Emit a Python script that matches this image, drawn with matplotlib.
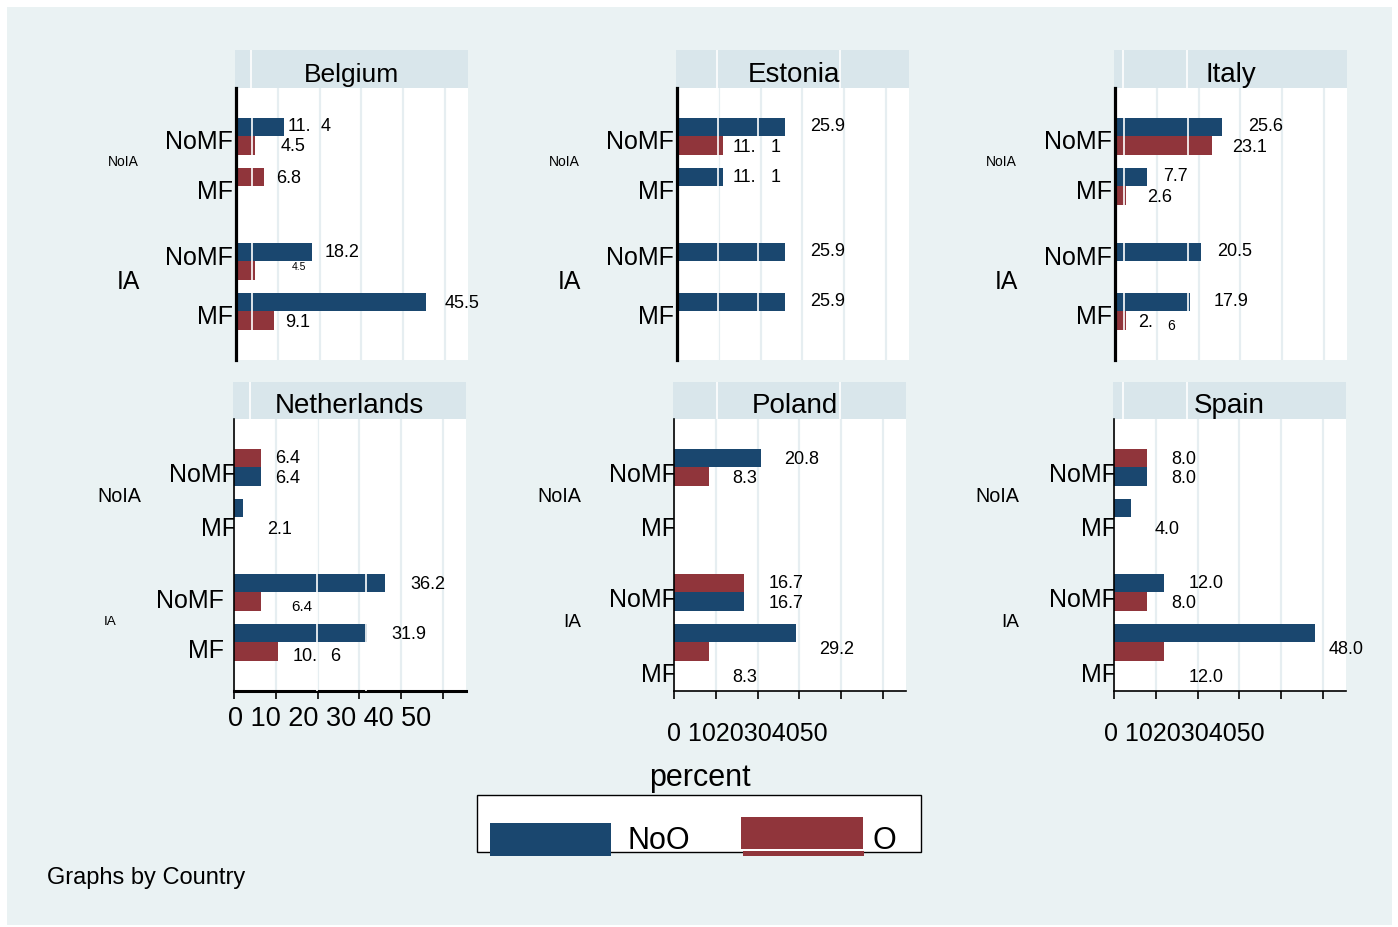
import numpy as np
import matplotlib
matplotlib.use("Agg")
import matplotlib.pyplot as plt
import matplotlib.transforms as mtransforms
from matplotlib import font_manager
from matplotlib.patches import Rectangle

W, H, DPI = 1398, 927, 100

# ---------------------------------------------------------------- data
countries = ["Belgium", "Estonia", "Italy", "Netherlands", "Poland", "Spain"]
series_names = ["NoO", "O"]
mf_labels = ["NoMF", "MF", "NoMF", "MF"]
ia_labels = ["NoIA", "IA"]
tick_values = [0, 10, 20, 30, 40, 50]
tick_labels = ["0", "10", "20", "30", "40", "50"]
nan = np.nan

# percent; rows: NoIA/NoMF, NoIA/MF, IA/NoMF, IA/MF
belgium_noo = [11.4, nan, 18.2, 45.5]
belgium_o = [4.5, 6.8, 4.5, 9.1]
estonia_noo = [25.9, 11.1, 25.9, 25.9]
estonia_o = [11.1, nan, nan, nan]
italy_noo = [25.6, 7.7, 20.5, 17.9]
italy_o = [23.1, 2.6, nan, 2.6]
netherlands_noo = [6.4, 2.1, 36.2, 31.9]
netherlands_o = [6.4, nan, 6.4, 10.6]
poland_noo = [20.8, nan, 16.7, 29.2]
poland_o = [8.3, nan, 16.7, 8.3]
spain_noo = [8.0, 4.0, 12.0, 48.0]
spain_o = [8.0, nan, 8.0, 12.0]

values = {
    "Belgium": (belgium_noo, belgium_o),
    "Estonia": (estonia_noo, estonia_o),
    "Italy": (italy_noo, italy_o),
    "Netherlands": (netherlands_noo, netherlands_o),
    "Poland": (poland_noo, poland_o),
    "Spain": (spain_noo, spain_o),
}

# ---------------------------------------------------------------- style
available = {f.name for f in font_manager.fontManager.ttflist}
SANS = "Liberation Sans" if "Liberation Sans" in available else "DejaVu Sans"
NARROW = "Liberation Sans Narrow" if "Liberation Sans Narrow" in available else SANS
plt.rcParams["font.family"] = [SANS, "DejaVu Sans"]

BG = "#eaf2f3"
STRIP = "#d9e6eb"
GRID = "#e6eef1"
BLUE = "#1a476f"
RED = "#90353b"

STYLES = {
    "n": dict(family=[SANS], size=13),
    "c": dict(family=[NARROW], size=13),
    "s": dict(family=[SANS], size=7.5),
    "cs": dict(family=[NARROW], size=11),
    "ct": dict(family=[NARROW], size=10),
}
TICK_SIZE = 18

XMAX = 55.5
PANEL_W = 232
CAT_POS = [0.0, 1.0, 2.5, 3.5]
Y_LIM = (4.475, -0.965)
BAR_H = 0.37

panel_left = {"Belgium": 236, "Estonia": 677, "Italy": 1115,
              "Netherlands": 234, "Poland": 674, "Spain": 1114}
row_of = {"Belgium": 0, "Estonia": 0, "Italy": 0,
          "Netherlands": 1, "Poland": 1, "Spain": 1}
# strip top, plot top, plot bottom (pixels from top)
row_box = {0: (50, 88, 360), 1: (382, 419, 691)}

# categories where the O bar sits in the upper slot
o_on_top = {"Belgium": {1}, "Estonia": set(), "Italy": set(),
            "Netherlands": {0}, "Poland": {2}, "Spain": {0}}

# value labels: (series, category) -> (dx px, dy px down, style[, split gap, tail style, tail dy])
label_layout = {
    "Belgium": {(0, 0): (4, -2, "n", 9), (1, 0): (26, -1, "n"), (1, 1): (12, 0, "n"),
                (0, 2): (13, -1, "n"), (1, 2): (37, -4, "s"), (0, 3): (18, 0, "n"),
                (1, 3): (11, 0, "n")},
    "Estonia": {(0, 0): (25, -2, "c"), (1, 0): (9, 0, "n", 15), (0, 1): (9, -1, "n", 15),
                (0, 2): (25, -2, "c"), (0, 3): (25, -2, "c")},
    "Italy": {(0, 0): (26, -2, "n"), (1, 0): (21, 0, "n"), (0, 1): (16, -2, "n"),
              (1, 1): (21, 0, "n"), (0, 2): (16, -2, "n"), (0, 3): (24, -2, "n"),
              (1, 3): (12, 0, "n", 15, "ct", -2)},
    "Netherlands": {(1, 0): (14, -1, "n"), (0, 0): (14, 0, "n"), (0, 1): (24, 20, "n"),
                    (0, 2): (25, 0, "n"), (1, 2): (30, 4, "cs"), (0, 3): (24, 0, "n"),
                    (1, 3): (14, 3, "n", 13)},
    "Poland": {(0, 0): (23, 0, "n"), (1, 0): (24, 0, "n"), (1, 2): (25, -1, "n"),
               (0, 2): (25, 0, "n"), (0, 3): (23, 15, "n"), (1, 3): (24, 24, "n")},
    "Spain": {(1, 0): (24, 0, "n"), (0, 0): (24, 0, "n"), (0, 1): (24, 20, "n"),
              (0, 2): (24, -1, "n"), (1, 2): (24, 0, "n"), (0, 3): (14, 15, "n"),
              (1, 3): (24, 24, "n")},
}

# category tick labels: per-label dx (right edge vs axis) and dy
tick_layout = {
    "Belgium": ([-3] * 4, [4, 4, -5, 4]),
    "Estonia": ([-3] * 4, [4, 4, -5, 4]),
    "Italy": ([-3] * 4, [4, 4, -5, 4]),
    "Netherlands": ([3, 3, -10, -10], [6, 10, 7, 7]),
    "Poland": ([3] * 4, [6, 10, 6, 31]),
    "Spain": ([3] * 4, [6, 10, 6, 31]),
}
# group labels: (centre dx, dy, size) for NoIA and IA
group_layout = {
    "Belgium": [(-113, 0, 10), (-108, -6.5, 17.8)],
    "Estonia": [(-113, 0, 10), (-108, -6.5, 17.8)],
    "Italy": [(-114, 0, 10), (-109, -6.5, 17.8)],
    "Netherlands": [(-115, 3, 14.2), (-124, 3, 9.7)],
    "Poland": [(-115, 3, 14.2), (-102, 3, 13.7)],
    "Spain": [(-117, 3, 14.2), (-104, 3, 13.7)],
}
# white rules in the strip and over the bars (data units)
strip_rules = {"Belgium": [3.8], "Estonia": [9.8, 39.0], "Italy": [2.2, 17.5],
               "Netherlands": [4.1], "Poland": [10.5, 39.7], "Spain": [2.4, 17.7]}
bar_rules = {"Belgium": [3.8], "Estonia": [9.8, 19.4], "Italy": [2.2, 17.5],
             "Netherlands": [19.8, 31.5], "Poland": [], "Spain": []}
# x tick label strings: (joiner, dx, dy below axis, size)
xtick_layout = {"Netherlands": (" ", -6, 25, 19.5),
                "Poland": ("", -7, 41, 18), "Spain": ("", -10, 41, 18)}
title_dx = {"Belgium": 0, "Estonia": 1, "Italy": 0,
            "Netherlands": 0, "Poland": 5, "Spain": 0}
title_size = {"Belgium": 19}


def cap(size):
    return 0.716 * size * DPI / 72


def px_rect(l, t, r, b):
    return [l / W, 1 - b / H, (r - l) / W, (b - t) / H]


fig = plt.figure(figsize=(W / DPI, H / DPI), dpi=DPI, facecolor="white")
fig.add_artist(Rectangle((7 / W, 2 / H), 1385 / W, 918 / H,
                         transform=fig.transFigure, facecolor=BG,
                         edgecolor="none", zorder=-3))

for country in countries:
    row = row_of[country]
    s_top, p_top, p_bot = row_box[row]
    left = panel_left[country]
    right = left + PANEL_W

    # strip with country name
    axs = fig.add_axes(px_rect(left - 1, s_top, right, p_top))
    axs.set_facecolor(STRIP)
    axs.set_xlim(0, XMAX)
    axs.set_ylim(0, 1)
    axs.set_xticks([])
    axs.set_yticks([])
    for sp in axs.spines.values():
        sp.set_visible(False)
    for xr in strip_rules[country]:
        axs.axvline(xr, color="white", lw=1.2)
    axs.annotate(country, xy=(0.5, 0), xycoords="axes fraction",
                 xytext=(title_dx[country], 6), textcoords="offset pixels",
                 ha="center", va="baseline",
                 fontsize=title_size.get(country, 20))

    # plot region
    ax = fig.add_axes(px_rect(left, p_top, right, p_bot))
    ax.set_facecolor("white")
    ax.set_xlim(0, XMAX)
    ax.set_ylim(*Y_LIM)
    ax.set_xticks(tick_values)
    ax.set_yticks([])
    ax.set_axisbelow(True)
    ax.grid(axis="x", color=GRID, lw=1.6)
    ax.spines["top"].set_visible(False)
    ax.spines["right"].set_visible(False)
    if row == 0:
        ax.spines["bottom"].set_visible(False)
        ax.spines["left"].set_linewidth(2.3)
        ax.tick_params(axis="x", bottom=False, labelbottom=False)
    else:
        ax.spines["left"].set_linewidth(1.2)
        ax.spines["bottom"].set_linewidth(2.2 if country == "Netherlands" else 1.2)
        ax.tick_params(axis="x", length=5.8, width=1.2, direction="out",
                       labelbottom=False, color="black")
        joiner, xdx, xdy, xsize = xtick_layout[country]
        xt_text = tick_labels[0] + " " + joiner.join(tick_labels[1:])
        ax.annotate(xt_text, xy=(0, 0), xycoords=ax.get_xaxis_transform(),
                    xytext=(xdx, -(xdy + cap(xsize) / 2)),
                    textcoords="offset pixels", ha="left", va="baseline",
                    fontsize=xsize)

    noo, o = values[country]
    for si, (vals, color) in enumerate(((noo, BLUE), (o, RED))):
        ys, ws = [], []
        for k, pos in enumerate(CAT_POS):
            if np.isnan(vals[k]):
                continue
            upper = (si == 1) == (k in o_on_top[country])
            ys.append(pos - BAR_H / 2 if upper else pos + BAR_H / 2)
            ws.append(vals[k])
        ax.barh(ys, ws, height=BAR_H, color=color, zorder=2)

        for y, v in zip(ys, ws):
            k = min(range(4), key=lambda j: abs(CAT_POS[j] - y))
            spec = label_layout[country][(si, k)]
            dx, dy, style = spec[0], spec[1], spec[2]
            st = STYLES[style]
            text = f"{v:.1f}"
            head = text[:-1] if len(spec) > 3 else text
            t = ax.annotate(head, xy=(v, y), xytext=(dx, -(dy + cap(st["size"]) / 2)),
                            textcoords="offset pixels", ha="left", va="baseline",
                            fontsize=st["size"], family=st["family"], zorder=5)
            if len(spec) > 3:
                gap = spec[3]
                tst = STYLES[spec[4]] if len(spec) > 4 else st
                tdy = spec[5] if len(spec) > 5 else 0
                ax.annotate(text[-1], xy=(1, 0), xycoords=t,
                            xytext=(gap, tdy), textcoords="offset pixels",
                            ha="left", va="bottom", fontsize=tst["size"],
                            family=tst["family"], zorder=5)

    for xr in bar_rules[country]:
        ax.axvline(xr, color="white", lw=1.2, zorder=3)

    # category labels, drawn beneath the plot region
    dxs, dys = tick_layout[country]
    ybl = mtransforms.blended_transform_factory(ax.transAxes, ax.transData)
    for k, pos in enumerate(CAT_POS):
        tr = ybl + mtransforms.ScaledTranslation(
            dxs[k] / DPI, -(dys[k] + cap(TICK_SIZE) / 2) / DPI, fig.dpi_scale_trans)
        fig.text(0, pos, mf_labels[k], transform=tr, ha="right", va="baseline",
                 fontsize=TICK_SIZE, zorder=-1)
    for g, (gdx, gdy, gsize) in enumerate(group_layout[country]):
        mid = (CAT_POS[2 * g] + CAT_POS[2 * g + 1]) / 2
        tr = ybl + mtransforms.ScaledTranslation(
            gdx / DPI, -(gdy + cap(gsize) / 2) / DPI, fig.dpi_scale_trans)
        fig.text(0, mid, ia_labels[g], transform=tr, ha="center", va="baseline",
                 fontsize=gsize, zorder=-1)

# overlay in pixel units for axis title, legend and note
ov = fig.add_axes([0, 0, 1, 1])
ov.set_xlim(0, W)
ov.set_ylim(H, 0)
ov.axis("off")

ov.text(700, 786, "percent", ha="center", va="baseline", fontsize=22)

ov.add_patch(Rectangle((477, 795), 444, 57, facecolor="white",
                       edgecolor="black", lw=1.0, zorder=1))
ov.add_patch(Rectangle((490, 823), 121, 33, facecolor=BLUE, edgecolor="none", zorder=2))
ov.add_patch(Rectangle((741, 817), 122, 32, facecolor=RED, edgecolor="none", zorder=2))
ov.add_patch(Rectangle((743, 851), 121, 5, facecolor=RED, edgecolor="none", zorder=2))
ov.text(628, 838 + cap(22) / 2, series_names[0], ha="left", va="baseline", fontsize=22)
ov.text(872, 838 + cap(22) / 2, series_names[1], ha="left", va="baseline", fontsize=22)

ov.text(47, 884, "Graphs by Country", ha="left", va="baseline", fontsize=17)

fig.savefig("out.png", dpi=DPI, facecolor="white")
